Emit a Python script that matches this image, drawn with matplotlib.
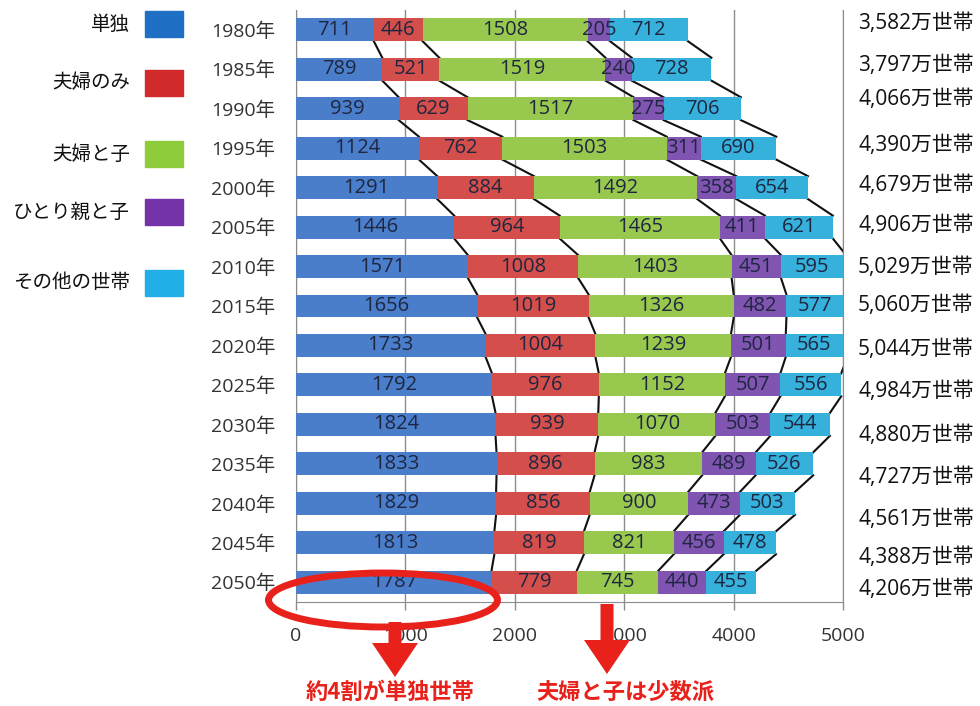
import matplotlib
matplotlib.use("Agg")
import matplotlib.pyplot as plt
import numpy as np
from matplotlib.patches import Ellipse, FancyArrow, Rectangle

plt.rcParams["font.family"] = ["Noto Sans CJK JP", "DejaVu Sans"]
NUM_FONT = ["Open Sans", "Noto Sans CJK JP"]

# データ（万世帯）
years = ["1980年", "1985年", "1990年", "1995年", "2000年", "2005年", "2010年", "2015年",
         "2020年", "2025年", "2030年", "2035年", "2040年", "2045年", "2050年"]
categories = ["単独", "夫婦のみ", "夫婦と子", "ひとり親と子", "その他の世帯"]
single = [711, 789, 939, 1124, 1291, 1446, 1571, 1656, 1733, 1792, 1824, 1833, 1829, 1813, 1787]
couple = [446, 521, 629, 762, 884, 964, 1008, 1019, 1004, 976, 939, 896, 856, 819, 779]
couple_child = [1508, 1519, 1517, 1503, 1492, 1465, 1403, 1326, 1239, 1152, 1070, 983, 900, 821, 745]
single_parent = [205, 240, 275, 311, 358, 411, 451, 482, 501, 507, 503, 489, 473, 456, 440]
other = [712, 728, 706, 690, 654, 621, 595, 577, 565, 556, 544, 526, 503, 478, 455]
totals = ["3,582", "3,797", "4,066", "4,390", "4,679", "4,906", "5,029", "5,060",
          "5,044", "4,984", "4,880", "4,727", "4,561", "4,388", "4,206"]

bar_colors = ["#4a7ecb", "#d44f4c", "#99c84e", "#7f55b1", "#35b1dc"]
legend_colors = ["#1f6fc5", "#d12a2a", "#8fcc3c", "#7433a8", "#22aee6"]
RED = "#e8211b"

W, H = 980, 706
fig = plt.figure(figsize=(W / 100, H / 100), dpi=100)
ax = fig.add_axes([296 / W, (H - 602) / H, 547 / W, 592 / H])

series = [single, couple, couple_child, single_parent, other]
y = np.arange(len(years))
bar_h = 0.58
left = np.zeros(len(years))
bounds = []
for vals, col in zip(series, bar_colors):
    vals = np.array(vals)
    bars = ax.barh(y, vals, left=left, height=bar_h, color=col, zorder=3)
    ax.bar_label(bars, labels=[str(v) for v in vals], label_type="center",
                 fontsize=14.5, color="#1e2640", zorder=4, family=NUM_FONT)
    left = left + vals
    bounds.append(left.copy())

# 区分線
for b in bounds:
    for i in range(len(years) - 1):
        ax.plot([b[i], b[i + 1]], [i + bar_h / 2, i + 1 - bar_h / 2],
                color="#111111", lw=1.5, zorder=2)

ax.set_xlim(0, 5000)
ax.set_ylim(len(years) - 0.5, -0.5)
ax.set_xticks([0, 1000, 2000, 3000, 4000, 5000])
ax.set_yticks(y)
ax.set_yticklabels(years, family=NUM_FONT)
ax.set_xticklabels(["0", "1000", "2000", "3000", "4000", "5000"], family=NUM_FONT)
ax.tick_params(axis="y", length=0, pad=15, labelsize=14, labelcolor="#333333")
ax.tick_params(axis="x", length=6, width=1, color="#8c8c8c", pad=12,
               labelsize=14, labelcolor="#333333")
ax.grid(axis="x", color="#8c8c8c", lw=1, zorder=0)
for s in ["left", "bottom", "right"]:
    ax.spines[s].set_color("#8c8c8c")
ax.spines["top"].set_visible(False)

# 注記レイヤー（ピクセル座標）
ov = fig.add_axes([0, 0, 1, 1], zorder=10)
ov.set_xlim(0, W)
ov.set_ylim(H, 0)
ov.axis("off")
ov.patch.set_alpha(0)

legend_y = [24, 83, 154, 212, 283]
for name, col, ly in zip(categories, legend_colors, legend_y):
    ov.text(130, ly, name, ha="right", va="center", fontsize=14, color="#111111")
    ov.add_patch(Rectangle((145, ly - 13), 38, 26, color=col))

total_y = [24, 66, 99, 146, 185, 225, 267, 306, 349, 391, 436, 477, 519, 557, 590]
for t, ty in zip(totals, total_y):
    ov.text(858, ty, t + "万世帯", ha="left", va="center", fontsize=15,
            color="#111111", family=NUM_FONT)

ov.add_patch(Ellipse((383, 600), 229, 54, fill=False, ec=RED, lw=5))
ov.add_patch(FancyArrow(395, 622, 0, 55, width=13, head_width=46, head_length=34,
                        length_includes_head=True, color=RED, lw=0))
ov.add_patch(FancyArrow(607, 604, 0, 70, width=13, head_width=46, head_length=34,
                        length_includes_head=True, color=RED, lw=0))
ov.text(390, 692, "約4割が単独世帯", ha="center", va="center", fontsize=16,
        fontweight="bold", color=RED)
ov.text(625, 692, "夫婦と子は少数派", ha="center", va="center", fontsize=16,
        fontweight="bold", color=RED)

fig.savefig("out.png", dpi=100)
